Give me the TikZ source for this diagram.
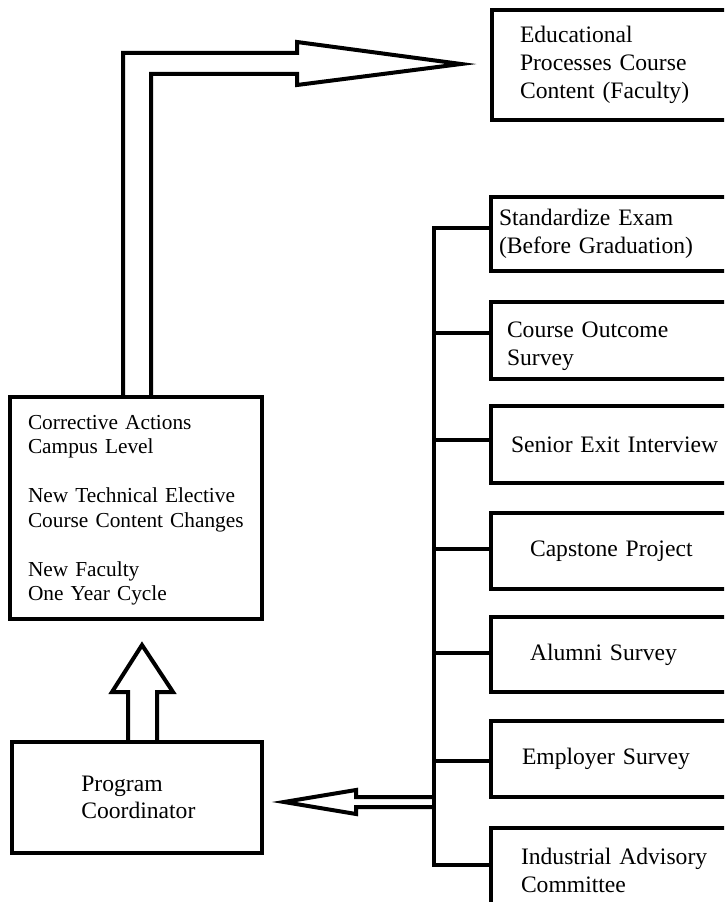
\documentclass[tikz,border=0pt]{standalone}
\usepackage{fontspec}
\setmainfont{Liberation Serif}
\begin{document}
\begin{tikzpicture}[x=0.75pt,y=-0.75pt,
  ln/.style={line width=3pt},
  blk/.style={draw, line width=3pt, line join=miter},
  box/.style={draw, line width=3pt, rectangle, anchor=north west, align=left,
    inner ysep=0pt, outer sep=0pt, font=\fontsize{17.7}{21}\selectfont}]
\useasboundingbox (0,0) rectangle (724,902);
\clip (0,0) rectangle (724,902);

% right column boxes
\node[box, minimum width=201pt, minimum height=82.5pt, inner xsep=21pt, text width=159pt] (edu) at (492,10) {Educational\\Processes Course\\Content (Faculty)};
\node[box, minimum width=201.75pt, minimum height=55.5pt, inner xsep=6pt, text width=189.75pt] (std) at (491,197) {Standardize Exam\\(Before Graduation)};
\node[box, minimum width=201.75pt, minimum height=57.75pt, inner xsep=12pt, text width=177.75pt] (cos) at (491,302) {\rule{0pt}{20pt}Course Outcome\\Survey};
\node[box, minimum width=201.75pt, minimum height=57.75pt, inner xsep=15pt, text width=171.75pt] (sei) at (491,406) {Senior Exit Interview};
\node[box, minimum width=201.75pt, minimum height=57pt, inner xsep=29.25pt, text width=143.25pt] (cap) at (491,513) {Capstone Project};
\node[box, minimum width=201.75pt, minimum height=56.25pt, inner xsep=29.25pt, text width=143.25pt] (alu) at (491,617) {Alumni Survey};
\node[box, minimum width=201.75pt, minimum height=57pt, inner xsep=23.25pt, text width=155.25pt] (emp) at (491,721) {Employer Survey};
\node[box, minimum width=201.75pt, minimum height=63pt, inner xsep=22.5pt, text width=156.75pt] (ind) at (491,828) {Industrial Advisory\\Committee};

% left boxes
\node[box, minimum width=189pt, minimum height=166.5pt, inner xsep=13.5pt, text width=162pt,
  font=\fontsize{16}{18.4}\selectfont] (cor) at (10,397)
  {\rule{0pt}{14pt}Corrective Actions\\Campus Level\\[18.4pt]New Technical Elective\\Course Content Changes\\[18.4pt]New Faculty\\One Year Cycle};
\node[box, minimum width=187.5pt, minimum height=83.25pt, inner xsep=52pt, text width=83.5pt,
  font=\fontsize{17.7}{20.25}\selectfont] (pc) at (12,742) {Program\\Coordinator};

% bus
\coordinate (b1) at (434,228);
\coordinate (b2) at (434,333);
\coordinate (b3) at (434,440);
\coordinate (b4) at (434,549);
\coordinate (b5) at (434,653);
\coordinate (b6) at (434,761);
\coordinate (b7) at (434,865);
\draw[ln] (b1 -| std.west) -- (b1) -- (b7) -- (b7 -| ind.west);
\draw[ln] (b2) -- (b2 -| cos.west);
\draw[ln] (b3) -- (b3 -| sei.west);
\draw[ln] (b4) -- (b4 -| cap.west);
\draw[ln] (b5) -- (b5 -| alu.west);
\draw[ln] (b6) -- (b6 -| emp.west);

% block arrow from bus to program coordinator
\draw[blk] (434,797) -- (356,797) -- (356,790) -- (284,802) -- (356,814) -- (356,807) -- (434,807);

% block arrow up from program coordinator to corrective actions
\draw[blk] (128,742) -- (128,692) -- (112,692) -- (142,645) -- (173,692) -- (157,692) -- (157,742);

% bent block arrow from corrective actions to educational processes
\draw[blk] (123,397) -- (123,53) -- (297,53) -- (297,42) -- (461,64) -- (297,85) -- (297,74) -- (151,74) -- (151,397);
\end{tikzpicture}
\end{document}
